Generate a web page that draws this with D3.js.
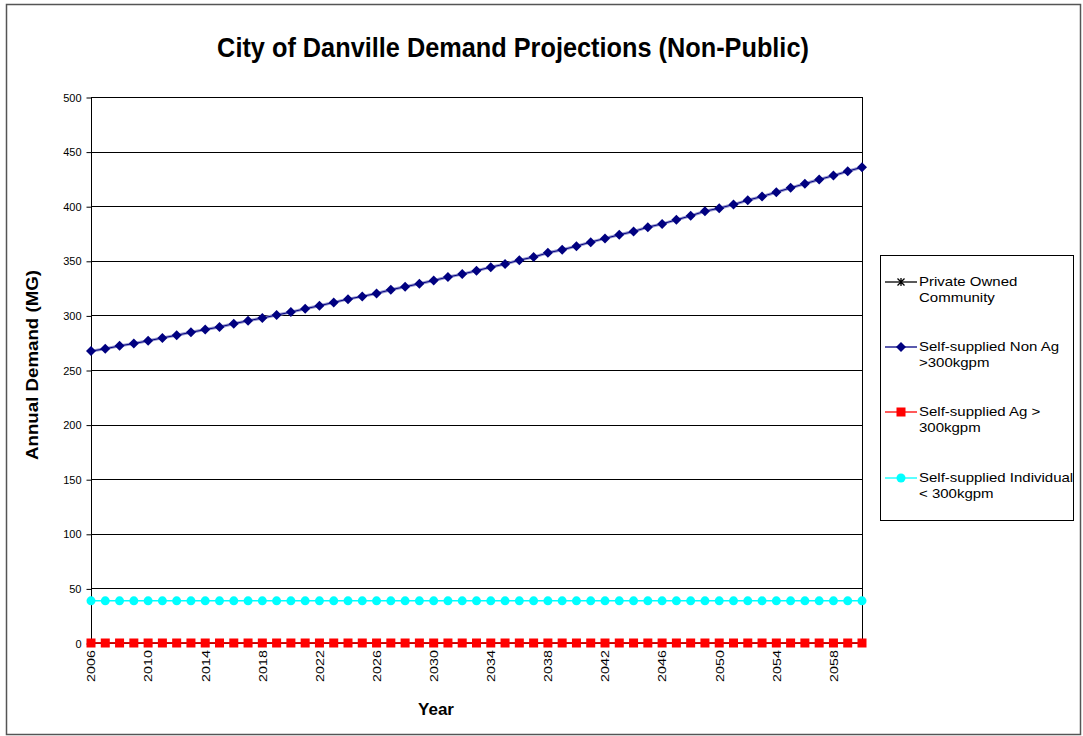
<!DOCTYPE html>
<html>
<head>
<meta charset="utf-8">
<script src="https://cdn.jsdelivr.net/npm/d3@7"></script>
<style>
  body { margin: 0; background: #fff; }
  svg { display: block; font-family: "Liberation Sans", Arial, sans-serif; }
</style>
</head>
<body>
<svg id="chart" width="1083" height="736"></svg>
<script>
// years 2006..2060
const years = d3.range(2006, 2061);

// values (MG)
const nonAg = [
  267.3, 269.4, 272.1, 274.2, 276.7, 279.4, 281.8, 284.5, 287.0, 289.4,
  292.4, 295.1, 297.6, 300.3, 303.0, 306.1, 308.8, 311.9, 314.9, 317.4,
  320.1, 323.5, 326.2, 329.0, 332.0, 335.1, 337.8, 340.9, 344.2, 347.0,
  350.6, 353.4, 357.3, 360.1, 363.4, 367.1, 370.5, 373.8, 376.8, 380.8,
  383.8, 387.5, 391.2, 395.4, 398.2, 401.5, 405.5, 408.9, 412.8, 416.8,
  420.5, 424.4, 428.0, 432.0, 435.7
];
const privateOwned = years.map(() => 0);
const ag = years.map(() => 0);
const individual = years.map(() => 38.6);

const yTicks = [0, 50, 100, 150, 200, 250, 300, 350, 400, 450, 500];
const xTickYears = d3.range(2006, 2060, 4);

const series = [
  { name: ['Private Owned', 'Community'], values: privateOwned, color: '#000000', marker: 'star' },
  { name: ['Self-supplied Non Ag', '>300kgpm'], values: nonAg, color: '#000080', marker: 'diamond' },
  { name: ['Self-supplied Ag >', '300kgpm'], values: ag, color: '#ff0000', marker: 'square' },
  { name: ['Self-supplied Individual', '< 300kgpm'], values: individual, color: '#00ffff', marker: 'circle' }
];

const svg = d3.select('#chart');
const margin = { left: 91, right: 862, top: 97, bottom: 643 };

// outer frame
svg.append('rect')
  .attr('x', 6.5).attr('y', 4.5)
  .attr('width', 1074).attr('height', 730)
  .attr('fill', 'none').attr('stroke', '#555').attr('stroke-width', 1.5);

// title (the original text is drawn a bit taller than wide)
svg.append('text')
  .attr('transform', 'translate(513,57) scale(1,1.12)')
  .attr('text-anchor', 'middle')
  .style('font-size', '25.3px').style('font-weight', 'bold')
  .text('City of Danville Demand Projections (Non-Public)');

const x = d3.scaleLinear().domain([2006, 2060]).range([margin.left, margin.right]);
const y = d3.scaleLinear().domain([0, 500]).range([margin.bottom, margin.top]);

// gridlines
svg.append('g')
  .selectAll('line')
  .data(yTicks)
  .enter()
  .append('line')
  .attr('x1', margin.left).attr('x2', margin.right)
  .attr('y1', d => Math.round(y(d)) + 0.5).attr('y2', d => Math.round(y(d)) + 0.5)
  .attr('stroke', '#000').attr('stroke-width', 1);

// right border
svg.append('line')
  .attr('x1', margin.right + 0.5).attr('x2', margin.right + 0.5)
  .attr('y1', margin.top).attr('y2', margin.bottom)
  .attr('stroke', '#000');

// y axis
const yAxis = svg.append('g')
  .attr('transform', 'translate(' + (margin.left + 0.5) + ',0.5)')
  .call(d3.axisLeft(y).tickValues(yTicks).tickSize(5).tickPadding(5));
yAxis.selectAll('path, line').attr('stroke', '#000');
yAxis.selectAll('text')
  .style('font-size', '11px').style('font-family', '"Liberation Sans", Arial, sans-serif')
  .attr('fill', '#000');
yAxis.select('.domain').attr('d', 'M0,' + margin.top + 'V' + margin.bottom);

// x axis labels, rotated
const xAxis = svg.append('g')
  .attr('transform', 'translate(0,' + margin.bottom + ')')
  .call(d3.axisBottom(x).tickValues(xTickYears).tickFormat(d3.format('d')).tickSize(0));
xAxis.select('.domain').remove();
xAxis.selectAll('text')
  .style('font-size', '11px').style('font-family', '"Liberation Sans", Arial, sans-serif')
  .attr('fill', '#000')
  .attr('transform', 'rotate(-90) scale(1.3,1)')
  .attr('text-anchor', 'end')
  .attr('x', -5.5).attr('y', 0).attr('dy', '0.35em');

// axis titles
svg.append('text')
  .attr('transform', 'translate(38,365) rotate(-90) scale(1.1,1)')
  .attr('text-anchor', 'middle')
  .style('font-size', '17px').style('font-weight', 'bold')
  .text('Annual Demand (MG)');

svg.append('text')
  .attr('x', 436).attr('y', 715)
  .attr('text-anchor', 'middle')
  .style('font-size', '17px').style('font-weight', 'bold')
  .text('Year');

function drawMarker(g, type, color, cx, cy) {
  if (type === 'diamond') {
    g.append('path')
      .attr('d', `M${cx},${cy - 5}L${cx + 5},${cy}L${cx},${cy + 5}L${cx - 5},${cy}Z`)
      .attr('fill', color);
  } else if (type === 'square') {
    g.append('rect')
      .attr('x', cx - 4.5).attr('y', cy - 4.5).attr('width', 9).attr('height', 9)
      .attr('fill', color);
  } else if (type === 'circle') {
    g.append('circle').attr('cx', cx).attr('cy', cy).attr('r', 4.5).attr('fill', color);
  } else {
    g.append('path')
      .attr('d', `M${cx - 3.5},${cy - 3.5}L${cx + 3.5},${cy + 3.5}M${cx - 3.5},${cy + 3.5}L${cx + 3.5},${cy - 3.5}M${cx},${cy - 4}L${cx},${cy + 4}`)
      .attr('stroke', color).attr('stroke-width', 1.3).attr('fill', 'none');
  }
}

const line = d3.line().x((d, i) => x(years[i])).y(d => y(d));

series.forEach(s => {
  const g = svg.append('g');
  g.append('path')
    .attr('d', line(s.values))
    .attr('fill', 'none')
    .attr('stroke', s.color === '#000080' ? '#9a9ad0' : s.color)
    .attr('stroke-width', s.color === '#000080' ? 3 : 1.5);
  if (s.color === '#000080') {
    g.append('path').attr('d', line(s.values)).attr('fill', 'none')
      .attr('stroke', s.color).attr('stroke-width', 1);
  }
  s.values.forEach((v, i) => drawMarker(g, s.marker, s.color, x(years[i]), y(v)));
});

// legend
const legend = svg.append('g');
legend.append('rect')
  .attr('x', 880.5).attr('y', 255.5).attr('width', 193).attr('height', 265)
  .attr('fill', '#fff').attr('stroke', '#000');

const legendY = [282, 347, 412, 478];
series.forEach((s, i) => {
  const ly = legendY[i];
  legend.append('line')
    .attr('x1', 885).attr('x2', 917).attr('y1', ly).attr('y2', ly)
    .attr('stroke', s.color).attr('stroke-width', 1.3);
  drawMarker(legend, s.marker, s.color, 901, ly);
  const t = legend.append('text')
    .attr('transform', 'translate(919,' + (ly + 4) + ') scale(1.2,1)')
    .style('font-size', '12.5px').attr('fill', '#000');
  s.name.forEach((n, j) => {
    t.append('tspan').attr('x', 0).attr('dy', j === 0 ? 0 : 16).text(n);
  });
});
</script>
</body>
</html>
